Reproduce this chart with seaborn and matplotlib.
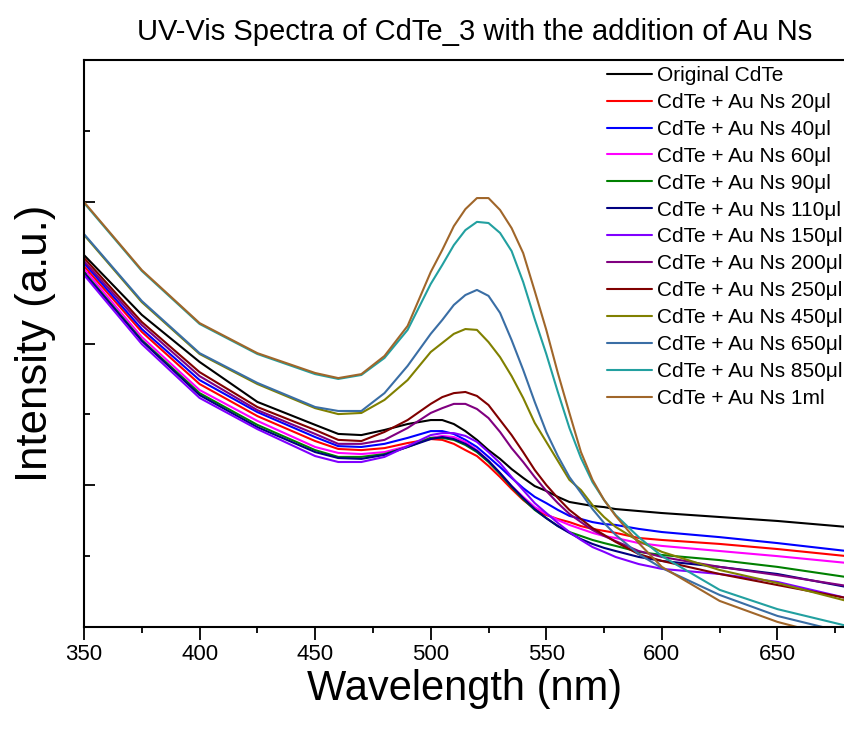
import numpy as np
import pandas as pd
import matplotlib
matplotlib.use("Agg")
import matplotlib.pyplot as plt
from matplotlib.ticker import MultipleLocator
import seaborn as sns

# wavelength grid (nm) the curves were read at
wavelength = [350, 375, 400, 425, 450, 460, 470, 480, 490, 500, 505, 510, 515, 520, 525,
              530, 535, 540, 545, 550, 555, 560, 565, 570, 575, 580, 590, 600, 625, 650, 680]

original = [1.312, 1.101, 0.935, 0.794, 0.713, 0.681, 0.677, 0.695, 0.716, 0.730, 0.730,
            0.716, 0.691, 0.660, 0.624, 0.593, 0.557, 0.526, 0.497, 0.480, 0.459, 0.441,
            0.434, 0.427, 0.423, 0.416, 0.409, 0.402, 0.388, 0.374, 0.353]
au_20 = [1.273, 1.041, 0.857, 0.744, 0.656, 0.628, 0.624, 0.631, 0.649, 0.663, 0.660,
         0.646, 0.624, 0.603, 0.568, 0.529, 0.487, 0.448, 0.416, 0.395, 0.381, 0.370,
         0.356, 0.346, 0.339, 0.332, 0.314, 0.307, 0.293, 0.275, 0.250]
au_40 = [1.284, 1.051, 0.871, 0.758, 0.670, 0.638, 0.635, 0.646, 0.667, 0.691, 0.691,
         0.681, 0.660, 0.635, 0.600, 0.564, 0.526, 0.490, 0.459, 0.437, 0.413, 0.392,
         0.381, 0.370, 0.363, 0.360, 0.346, 0.335, 0.317, 0.296, 0.268]
au_60 = [1.263, 1.023, 0.836, 0.727, 0.635, 0.614, 0.610, 0.617, 0.638, 0.667, 0.674,
         0.670, 0.653, 0.624, 0.586, 0.543, 0.497, 0.459, 0.423, 0.399, 0.377, 0.360,
         0.346, 0.332, 0.321, 0.314, 0.296, 0.286, 0.268, 0.250, 0.226]
au_90 = [1.252, 1.012, 0.825, 0.713, 0.624, 0.600, 0.600, 0.610, 0.635, 0.667, 0.667,
         0.660, 0.642, 0.617, 0.582, 0.540, 0.494, 0.451, 0.413, 0.384, 0.356, 0.335,
         0.321, 0.307, 0.296, 0.286, 0.265, 0.254, 0.236, 0.212, 0.176]
au_110 = [1.249, 1.009, 0.818, 0.705, 0.617, 0.596, 0.593, 0.607, 0.635, 0.663, 0.670,
          0.663, 0.646, 0.621, 0.586, 0.543, 0.497, 0.455, 0.416, 0.384, 0.356, 0.332,
          0.310, 0.293, 0.279, 0.268, 0.247, 0.233, 0.212, 0.187, 0.141]
au_150 = [1.242, 0.998, 0.808, 0.698, 0.603, 0.582, 0.582, 0.600, 0.638, 0.677, 0.684,
          0.684, 0.674, 0.653, 0.617, 0.578, 0.529, 0.483, 0.437, 0.402, 0.367, 0.335,
          0.307, 0.282, 0.265, 0.247, 0.222, 0.205, 0.187, 0.159, 0.102]
au_200 = [1.291, 1.065, 0.885, 0.765, 0.681, 0.646, 0.646, 0.660, 0.702, 0.755, 0.772,
          0.787, 0.787, 0.769, 0.737, 0.688, 0.631, 0.582, 0.529, 0.480, 0.437, 0.399,
          0.370, 0.342, 0.321, 0.303, 0.268, 0.247, 0.212, 0.183, 0.145]
au_250 = [1.302, 1.076, 0.899, 0.776, 0.695, 0.660, 0.656, 0.688, 0.730, 0.787, 0.811,
          0.825, 0.829, 0.815, 0.783, 0.730, 0.677, 0.617, 0.554, 0.501, 0.455, 0.413,
          0.381, 0.349, 0.325, 0.300, 0.257, 0.233, 0.187, 0.148, 0.102]
au_450 = [1.383, 1.146, 0.963, 0.857, 0.772, 0.751, 0.755, 0.801, 0.871, 0.970, 1.002,
          1.034, 1.051, 1.048, 1.005, 0.952, 0.885, 0.808, 0.720, 0.653, 0.586, 0.519,
          0.483, 0.430, 0.388, 0.353, 0.303, 0.265, 0.201, 0.155, 0.092]
au_650 = [1.386, 1.150, 0.966, 0.861, 0.776, 0.762, 0.762, 0.825, 0.921, 1.034, 1.083,
          1.136, 1.171, 1.189, 1.168, 1.108, 1.012, 0.907, 0.794, 0.688, 0.603, 0.529,
          0.473, 0.416, 0.367, 0.325, 0.257, 0.208, 0.113, 0.039, -0.021]
au_850 = [1.496, 1.256, 1.069, 0.963, 0.892, 0.875, 0.889, 0.949, 1.048, 1.210, 1.277,
          1.347, 1.400, 1.429, 1.425, 1.390, 1.326, 1.217, 1.086, 0.963, 0.829, 0.702,
          0.596, 0.511, 0.448, 0.395, 0.317, 0.250, 0.131, 0.063, 0.004]
au_1ml = [1.499, 1.259, 1.072, 0.966, 0.896, 0.878, 0.892, 0.956, 1.062, 1.252, 1.330,
          1.414, 1.474, 1.513, 1.513, 1.471, 1.407, 1.319, 1.185, 1.048, 0.896, 0.755,
          0.617, 0.519, 0.448, 0.392, 0.296, 0.212, 0.092, 0.018, -0.046]

labels = ["Original CdTe", "CdTe + Au Ns 20μl", "CdTe + Au Ns 40μl", "CdTe + Au Ns 60μl",
          "CdTe + Au Ns 90μl", "CdTe + Au Ns 110μl", "CdTe + Au Ns 150μl",
          "CdTe + Au Ns 200μl", "CdTe + Au Ns 250μl", "CdTe + Au Ns 450μl",
          "CdTe + Au Ns 650μl", "CdTe + Au Ns 850μl", "CdTe + Au Ns 1ml"]
series = [original, au_20, au_40, au_60, au_90, au_110, au_150,
          au_200, au_250, au_450, au_650, au_850, au_1ml]
colors = ["#000000", "#FF0000", "#0000FF", "#FF00FF", "#008000", "#000080", "#8000FF",
          "#800080", "#800000", "#808000", "#3A6EA5", "#22A0A0", "#A0662A"]
xticks = [350, 400, 450, 500, 550, 600, 650]

frames = []
for lab, vals in zip(labels, series):
    frames.append(pd.DataFrame({"wavelength": wavelength, "intensity": vals, "sample": lab}))
df = pd.concat(frames, ignore_index=True)

sns.set_theme(style="ticks")
plt.rcParams["font.family"] = ["Liberation Sans", "DejaVu Sans"]
plt.rcParams["text.color"] = "black"
plt.rcParams["xtick.color"] = "black"
plt.rcParams["ytick.color"] = "black"

fig = plt.figure(figsize=(8.44, 7.38), dpi=100)
ax = fig.add_axes([84 / 844, 111 / 738, 809 / 844, 567 / 738])

sns.lineplot(data=df, x="wavelength", y="intensity", hue="sample", hue_order=labels,
             palette=colors, estimator=None, linewidth=1.5, ax=ax)

ax.set_xlim(350, 700)
ax.set_ylim(0, 2.0)
ax.set_xticks(xticks)
ax.xaxis.set_minor_locator(MultipleLocator(25))
ax.yaxis.set_major_locator(MultipleLocator(0.5))
ax.yaxis.set_minor_locator(MultipleLocator(0.25))
ax.set_yticklabels([])
ax.tick_params(axis="x", which="major", direction="out", length=9, width=1.3, labelsize=16)
ax.tick_params(axis="x", which="minor", direction="out", length=4.5, width=1.3)
ax.tick_params(axis="y", which="major", direction="in", length=8, width=1.3)
ax.tick_params(axis="y", which="minor", direction="in", length=4.5, width=1.3)
for s in ax.spines.values():
    s.set_linewidth(1.5)
    s.set_color("black")

ax.set_xlabel("")
ax.set_ylabel("")
fig.text(465 / 844, 1 - 689 / 738, "Wavelength (nm)", ha="center", va="center", fontsize=30)
fig.text(36 / 844, 1 - 343 / 738, "Intensity (a.u.)", ha="center", va="center",
         rotation=90, fontsize=31.5)
fig.text(475 / 844, 1 - 32 / 738, "UV-Vis Spectra of CdTe_3 with the addition of Au Ns",
         ha="center", va="center", fontsize=21)

leg = ax.legend(loc="upper left", bbox_to_anchor=(607 / 844, 1 - 66 / 738),
                bbox_transform=fig.transFigure, frameon=False, fontsize=15,
                borderpad=0, borderaxespad=0, handlelength=2.15, handletextpad=0.25,
                labelspacing=0.38)
for line in leg.get_lines():
    line.set_linewidth(1.5)

fig.savefig("out.png", dpi=100)
